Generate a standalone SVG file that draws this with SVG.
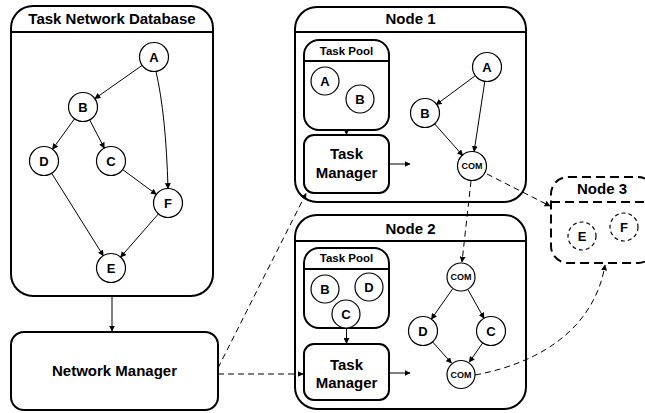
<svg xmlns="http://www.w3.org/2000/svg" width="645" height="413" viewBox="0 0 645 413">
<defs>
<marker id="ah" viewBox="0 0 10 10" refX="9" refY="5" markerWidth="6" markerHeight="6" orient="auto" markerUnits="userSpaceOnUse">
<path d="M0,0 L10,5 L0,10 z" fill="#000"/>
</marker>
</defs>
<style>
text{font-family:"Liberation Sans",Arial,sans-serif;font-weight:bold;fill:#000;text-anchor:middle}
.box{fill:#fff;stroke:#000;stroke-width:2}
.dbox{fill:none;stroke:#000;stroke-width:2;stroke-dasharray:9,5}
.hdr{stroke:#000;stroke-width:2}
.dhdr{stroke:#000;stroke-width:2;stroke-dasharray:9,5}
.c{fill:#fff;stroke:#000;stroke-width:1.2}
.dc{fill:#fff;stroke:#000;stroke-width:1.2;stroke-dasharray:4,3}
.t{font-size:15px}
.tp{font-size:11.5px}
.n{font-size:13px}
.com{font-size:9px}
.e{fill:none;stroke:#000;stroke-width:1;marker-end:url(#ah)}
.de{fill:none;stroke:#000;stroke-width:1;stroke-dasharray:6,4;marker-end:url(#ah)}
</style>

<g id="task-network-database">
<rect class="box" x="11" y="6" width="202" height="290" rx="22"/>
<line class="hdr" x1="11" y1="32" x2="213" y2="32"/>
<text class="t" x="112" y="24">Task Network Database</text>
<g id="tnd-A"><circle class="c" cx="154" cy="57" r="14.5"/><text class="n" x="154" y="61.7">A</text></g>
<g id="tnd-B"><circle class="c" cx="83" cy="107" r="14.5"/><text class="n" x="83" y="111.7">B</text></g>
<g id="tnd-D"><circle class="c" cx="44" cy="161" r="14.5"/><text class="n" x="44" y="165.7">D</text></g>
<g id="tnd-C"><circle class="c" cx="111" cy="161" r="14.5"/><text class="n" x="111" y="165.7">C</text></g>
<g id="tnd-F"><circle class="c" cx="168" cy="203" r="14.5"/><text class="n" x="168" y="207.7">F</text></g>
<g id="tnd-E"><circle class="c" cx="111" cy="268" r="14.5"/><text class="n" x="111" y="272.7">E</text></g>
</g>

<g id="network-manager">
<rect class="box" x="11" y="332" width="207" height="78" rx="13"/>
<text class="t" x="114.5" y="376">Network Manager</text>
</g>

<g id="node1">
<rect class="box" x="295" y="7" width="231" height="195" rx="22"/>
<line class="hdr" x1="295" y1="32" x2="526" y2="32"/>
<text class="t" x="410.5" y="24">Node 1</text>
<g id="node1-taskpool">
<rect class="box" x="304" y="40" width="85" height="90" rx="15"/>
<line class="hdr" x1="304" y1="61" x2="389" y2="61"/>
<text class="tp" x="346.5" y="55">Task Pool</text>
<circle class="c" cx="325" cy="81" r="14"/><text class="n" x="325" y="85.7">A</text>
<circle class="c" cx="360" cy="99" r="14"/><text class="n" x="360" y="103.7">B</text>
</g>
<g id="node1-taskmanager">
<rect class="box" x="304" y="135" width="85" height="58" rx="10"/>
<text class="t" x="346.5" y="158.5">Task</text>
<text class="t" x="346.5" y="178">Manager</text>
</g>
<g id="node1-A"><circle class="c" cx="487" cy="67" r="14.5"/><text class="n" x="487" y="71.7">A</text></g>
<g id="node1-B"><circle class="c" cx="425" cy="113" r="14.5"/><text class="n" x="425" y="117.7">B</text></g>
<g id="node1-COM"><circle class="c" cx="472" cy="166" r="14.5"/><text class="com" x="472" y="169.2">COM</text></g>
</g>

<g id="node2">
<rect class="box" x="295" y="215" width="231" height="194" rx="22"/>
<line class="hdr" x1="295" y1="241" x2="526" y2="241"/>
<text class="t" x="410.5" y="233.5">Node 2</text>
<g id="node2-taskpool">
<rect class="box" x="304" y="248" width="85" height="80" rx="15"/>
<line class="hdr" x1="304" y1="269" x2="389" y2="269"/>
<text class="tp" x="346.5" y="262">Task Pool</text>
<circle class="c" cx="325" cy="289" r="14"/><text class="n" x="325" y="293.7">B</text>
<circle class="c" cx="369" cy="287" r="14"/><text class="n" x="369" y="291.7">D</text>
<circle class="c" cx="346" cy="314" r="14"/><text class="n" x="346" y="318.7">C</text>
</g>
<g id="node2-taskmanager">
<rect class="box" x="304" y="344" width="85" height="56" rx="10"/>
<text class="t" x="346.5" y="369.5">Task</text>
<text class="t" x="346.5" y="387.5">Manager</text>
</g>
<g id="node2-COM-top"><circle class="c" cx="461" cy="277" r="14"/><text class="com" x="461" y="280.2">COM</text></g>
<g id="node2-D"><circle class="c" cx="423" cy="331" r="14.5"/><text class="n" x="423" y="335.7">D</text></g>
<g id="node2-C"><circle class="c" cx="491" cy="331" r="14.5"/><text class="n" x="491" y="335.7">C</text></g>
<g id="node2-COM-bottom"><circle class="c" cx="461" cy="374.5" r="14"/><text class="com" x="461" y="377.7">COM</text></g>
</g>

<g id="node3">
<rect class="dbox" x="551" y="177" width="104" height="86" rx="17"/>
<line class="dhdr" x1="551" y1="202" x2="645" y2="202"/>
<text class="t" x="602" y="194">Node 3</text>
<g id="node3-E"><circle class="dc" cx="582" cy="236" r="14"/><text class="n" x="582" y="240.7">E</text></g>
<g id="node3-F"><circle class="dc" cx="624" cy="227" r="14"/><text class="n" x="624" y="231.7">F</text></g>
</g>

<g id="connectors">
<line class="e" x1="142.1" y1="65.4" x2="94.9" y2="98.6"/>
<path class="e" d="M156,71.5 Q166,115 168,188.5"/>
<line class="e" x1="74.5" y1="118.8" x2="52.5" y2="149.2"/>
<line class="e" x1="89.7" y1="119.9" x2="104.3" y2="148.1"/>
<line class="e" x1="122.7" y1="169.6" x2="156.3" y2="194.4"/>
<line class="e" x1="51.7" y1="173.3" x2="103.3" y2="255.7"/>
<line class="e" x1="158.4" y1="213.9" x2="120.6" y2="257.1"/>
<line class="e" x1="112" y1="296" x2="112" y2="331"/>

<line class="e" x1="346.5" y1="130" x2="346.5" y2="134.5"/>
<line class="e" x1="389" y1="164" x2="410" y2="164"/>
<line class="e" x1="475.8" y1="75.3" x2="436.2" y2="104.7"/>
<line class="e" x1="484.9" y1="80.8" x2="474.1" y2="151.5"/>
<line class="e" x1="434.3" y1="123.5" x2="462.7" y2="155.5"/>

<line class="e" x1="346.5" y1="328" x2="346.5" y2="343.5"/>
<line class="e" x1="389" y1="373" x2="410" y2="373"/>
<line class="e" x1="452.6" y1="288.9" x2="431.4" y2="319.1"/>
<line class="e" x1="468" y1="289.7" x2="484" y2="318.3"/>
<line class="e" x1="432.6" y1="341.9" x2="451.4" y2="363.1"/>
<line class="e" x1="482.7" y1="342.9" x2="469.3" y2="362.1"/>

<line class="de" x1="487" y1="174" x2="550" y2="206"/>
<line class="de" x1="471" y1="181" x2="462" y2="262"/>
<path class="de" d="M475,375 C545,362 595,325 605,265"/>
<line class="de" x1="218" y1="374" x2="303" y2="374"/>
<line class="de" x1="218" y1="368" x2="306" y2="193.5"/>
</g>
</svg>
